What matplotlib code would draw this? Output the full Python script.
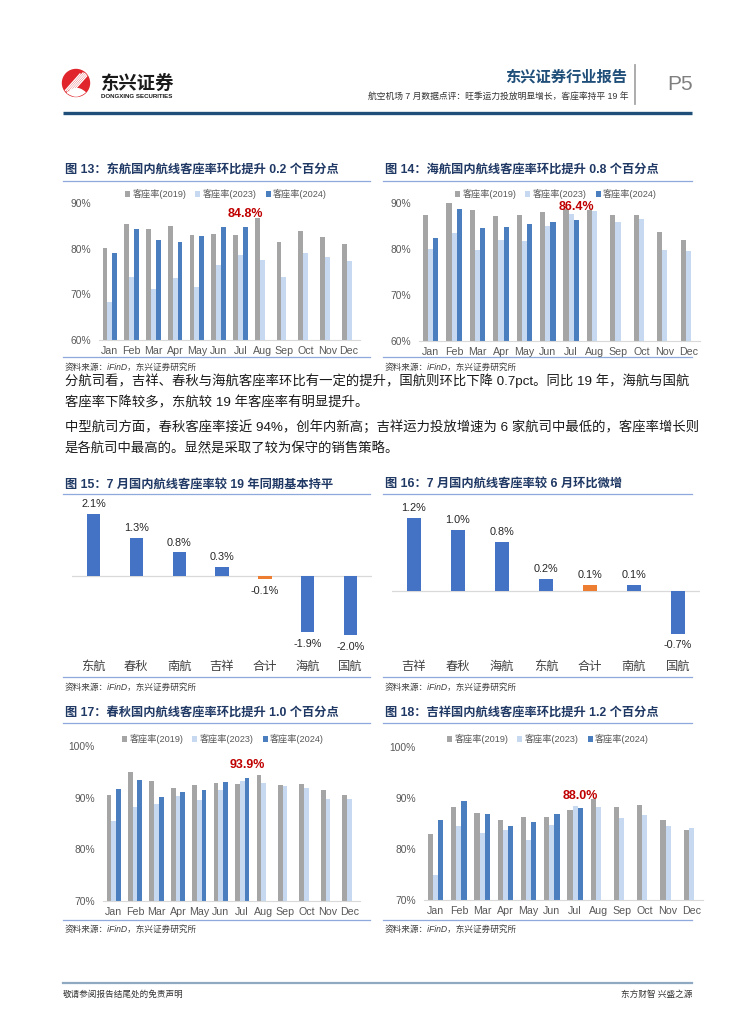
import matplotlib
matplotlib.use('Agg')
import matplotlib.pyplot as plt
import numpy as np
from matplotlib.patches import Circle

plt.rcParams['font.family'] = ['Liberation Sans', 'Noto Sans CJK SC', 'DejaVu Sans']

W, H = 755, 1024

# ---------------- data ----------------
months = ['Jan', 'Feb', 'Mar', 'Apr', 'May', 'Jun', 'Jul', 'Aug', 'Sep', 'Oct', 'Nov', 'Dec']
legend_labels = ['客座率(2019)', '客座率(2023)', '客座率(2024)']

ea_2019 = [80.1, 85.5, 84.2, 85.0, 83.1, 83.2, 82.9, 86.7, 81.5, 83.8, 82.6, 81.1]
ea_2023 = [68.4, 73.8, 71.2, 73.6, 71.5, 76.4, 78.7, 77.6, 73.8, 79.0, 78.2, 77.4]
ea_2024 = [79.0, 84.4, 81.8, 81.5, 82.8, 84.7, 84.8]

hn_2019 = [87.4, 90.0, 88.4, 87.2, 87.4, 88.0, 88.7, 88.5, 87.3, 87.4, 83.6, 82.0]
hn_2023 = [80.0, 83.4, 79.8, 81.9, 81.7, 85.0, 87.7, 88.2, 85.8, 86.6, 79.8, 79.6]
hn_2024 = [82.3, 88.7, 84.5, 84.8, 85.4, 85.8, 86.4]

cq_2019 = [90.5, 94.9, 93.2, 91.9, 92.5, 92.8, 92.7, 94.4, 92.4, 92.6, 91.5, 90.6]
cq_2023 = [85.5, 88.1, 88.8, 90.3, 89.6, 91.5, 93.2, 92.8, 92.2, 91.9, 89.7, 89.7]
cq_2024 = [91.6, 93.4, 90.1, 91.1, 91.4, 93.0, 93.9]

jx_2019 = [83.0, 88.2, 87.0, 85.6, 86.3, 86.3, 87.7, 89.9, 88.2, 88.6, 85.6, 83.8]
jx_2023 = [74.9, 84.6, 83.1, 83.7, 81.8, 84.7, 88.4, 88.2, 86.1, 86.7, 84.6, 84.2]
jx_2024 = [85.6, 89.4, 86.9, 84.5, 85.2, 86.9, 88.0]

yoy_airlines = ['东航', '春秋', '南航', '吉祥', '合计', '海航', '国航']
yoy_values = [2.1, 1.3, 0.8, 0.3, -0.1, -1.9, -2.0]

mom_airlines = ['吉祥', '春秋', '海航', '东航', '合计', '南航', '国航']
mom_values = [1.2, 1.0, 0.8, 0.2, 0.1, 0.1, -0.7]

# ---------------- styles ----------------
C19 = '#A5A5A5'
C23 = '#C6D9F1'
C24 = '#4A7EBF'
CBAR = '#4472C4'
CORANGE = '#ED7D31'
RED = '#C00000'
TITLE_C = '#1F3864'
LINE_C = '#8EA9DB'
TXT_C = '#595959'

fig = plt.figure(figsize=(W / 100, H / 100), dpi=100)
bg = fig.add_axes([0, 0, 1, 1])
bg.set_xlim(0, W)
bg.set_ylim(H, 0)
bg.axis('off')


def px_axes(x0, y0, x1, y1):
    ax = fig.add_axes([x0 / W, 1 - y1 / H, (x1 - x0) / W, (y1 - y0) / H])
    ax.set_facecolor('none')
    return ax


# ---------------- header ----------------
logo = Circle((76, 83), 13.5, color='#E0262C', zorder=2)
bg.add_patch(logo)
for k in range(5):
    ln, = bg.plot([64 + k * 3, 80 + k * 3], [92 - k * 1, 74 - k * 1], color='white', lw=1.0, zorder=3)
    ln.set_clip_path(logo)
arch = bg.fill_between(np.linspace(62, 90, 30), 97,
                       97 - 9 * np.sin(np.linspace(0, np.pi, 30)), color='white', zorder=3)
arch.set_clip_path(logo)
bg.text(101, 83, '东兴证券', fontsize=13.2, fontweight='bold', color='#1A1A1A',
        family=['Noto Sans CJK SC'], va='center', ha='left')
bg.text(101, 96.5, 'DONGXING SECURITIES', fontsize=4.4, fontweight='bold', color='#1A1A1A',
        va='center', ha='left')

bg.text(627, 77, '东兴证券行业报告', fontsize=11, fontweight='bold', color='#1F4E79',
        family=['Noto Sans CJK SC'], va='center', ha='right')
bg.text(628, 97.5, '航空机场 7 月数据点评：旺季运力投放明显增长，客座率持平 19 年', fontsize=6.3,
        color='#333333', va='center', ha='right')
bg.plot([635, 635], [65, 104], color='#A6A6A6', lw=1.3)
bg.text(680, 85, 'P5', fontsize=15, color='#7F7F7F', va='center', ha='center')
bg.plot([63, 692], [113, 113], color='#1F4E79', lw=2.4, solid_capstyle='butt')


# ---------------- helpers ----------------
def section_frame(x0, x1, title, ty, line_y, bottom_y, src_y):
    bg.text(x0 + 2, ty, title, fontsize=8.8, fontweight='bold', color=TITLE_C,
            va='center', ha='left')
    bg.plot([x0, x1], [line_y, line_y], color=LINE_C, lw=0.9)
    bg.plot([x0, x1], [bottom_y, bottom_y], color=LINE_C, lw=0.9)
    bg.text(x0 + 2, src_y, '资料来源：iFinD，东兴证券研究所', fontsize=6.2, style='italic',
            color='#404040', va='center', ha='left')


def month_chart(rect, s19, s23, s24, ylim, yticks, legend_xy):
    ax = px_axes(*rect)
    x = np.arange(len(months))
    w = 0.22
    b1 = ax.bar(x[:len(s19)] - w, s19, w, color=C19, label=legend_labels[0])
    b2 = ax.bar(x[:len(s23)], s23, w, color=C23, label=legend_labels[1])
    b3 = ax.bar(x[:len(s24)] + w, s24, w, color=C24, label=legend_labels[2])
    ax.set_xlim(-0.5, len(months) - 0.5)
    ax.set_ylim(*ylim)
    ax.set_yticks(yticks)
    ax.set_yticklabels([f'{t}%' for t in yticks], fontsize=7.4, color=TXT_C)
    ax.set_xticks(x)
    ax.set_xticklabels(months, fontsize=7.7, color=TXT_C)
    ax.tick_params(axis='both', length=0)
    ax.tick_params(axis='y', pad=6)
    ax.tick_params(axis='x', pad=4)
    for s in ['top', 'right', 'left']:
        ax.spines[s].set_visible(False)
    ax.spines['bottom'].set_color('#D9D9D9')
    last = len(s24) - 1
    ax.annotate(f'{s24[last]:.1f}%', (x[last] + w, s24[last]), xytext=(0, 4.5),
                textcoords='offset points', ha='center', va='bottom', fontsize=9,
                fontweight='bold', color=RED, zorder=5)
    ax.legend(handles=[b1, b2, b3], loc='center',
              bbox_to_anchor=(legend_xy[0] / W, 1 - legend_xy[1] / H),
              bbox_transform=fig.transFigure, ncol=3, frameon=False, fontsize=6.6,
              handlelength=0.55, handleheight=0.55, handletextpad=0.25, columnspacing=1.0,
              labelcolor=TXT_C, borderpad=0)
    return ax


def diff_chart(rect, cats, vals, ylim):
    ax = px_axes(*rect)
    x = np.arange(len(cats))
    colors = [CORANGE if c == '合计' else CBAR for c in cats]
    ax.bar(x, vals, 0.31, color=colors, zorder=2)
    ax.axhline(0, color='#D9D9D9', lw=0.9, zorder=1)
    ax.set_xlim(-0.5, len(cats) - 0.5)
    ax.set_ylim(*ylim)
    for xi, v in zip(x, vals):
        if v >= 0:
            ax.annotate(f'{v:.1f}%', (xi, v), xytext=(0, 3.5), textcoords='offset points',
                        ha='center', va='bottom', fontsize=7.8, color='#262626')
        else:
            ax.annotate(f'{v:.1f}%', (xi, v), xytext=(0, -5), textcoords='offset points',
                        ha='center', va='top', fontsize=7.8, color='#262626')
    ax.set_xticks(x)
    ax.set_xticklabels(cats, fontsize=8.8, color='#404040')
    ax.tick_params(axis='x', length=0, pad=8)
    ax.set_yticks([])
    for s in ax.spines.values():
        s.set_visible(False)
    return ax


# ---------------- charts 13 & 14 ----------------
section_frame(63, 370, '图 13：东航国内航线客座率环比提升 0.2 个百分点', 170, 181, 357, 367)
section_frame(383, 692, '图 14：海航国内航线客座率环比提升 0.8 个百分点', 170, 181, 357, 367)
month_chart((99, 203, 360, 340), ea_2019, ea_2023, ea_2024, (60, 90), [60, 70, 80, 90], (226, 194))
month_chart((419, 203, 700, 341), hn_2019, hn_2023, hn_2024, (60, 90), [60, 70, 80, 90], (556, 194))

# ---------------- text ----------------
para = [
    ('分航司看，吉祥、春秋与海航客座率环比有一定的提升，国航则环比下降 0.7pct。同比 19 年，海航与国航', 381),
    ('客座率下降较多，东航较 19 年客座率有明显提升。', 403),
    ('中型航司方面，春秋客座率接近 94%，创年内新高；吉祥运力投放增速为 6 家航司中最低的，客座率增长则', 427),
    ('是各航司中最高的。显然是采取了较为保守的销售策略。', 449),
]
for t, yy in para:
    bg.text(65, yy, t, fontsize=9.6, color='#1A1A1A', va='center', ha='left')

# ---------------- charts 15 & 16 ----------------
section_frame(63, 370, '图 15：7 月国内航线客座率较 19 年同期基本持平', 485, 494, 677, 687)
section_frame(383, 692, '图 16：7 月国内航线客座率较 6 月环比微增', 485, 494, 677, 687)
diff_chart((72, 505, 372, 650), yoy_airlines, yoy_values, (-2.51, 2.41))
diff_chart((392, 505, 700, 650), mom_airlines, mom_values, (-0.97, 1.41))

# ---------------- charts 17 & 18 ----------------
section_frame(63, 370, '图 17：春秋国内航线客座率环比提升 1.0 个百分点', 713, 723, 920, 929)
section_frame(383, 692, '图 18：吉祥国内航线客座率环比提升 1.2 个百分点', 713, 723, 920, 929)
month_chart((103, 746, 360, 901), cq_2019, cq_2023, cq_2024, (70, 100), [70, 80, 90, 100], (223, 739))
month_chart((424, 747, 703, 900), jx_2019, jx_2023, jx_2024, (70, 100), [70, 80, 90, 100], (548, 739))

# ---------------- footer ----------------
bg.plot([63, 692], [983, 983], color='#8EA9C1', lw=1.6)
bg.text(63, 994, '敬请参阅报告结尾处的免责声明', fontsize=6.2, color='#333333', va='center', ha='left')
bg.text(692, 994, '东方财智 兴盛之源', fontsize=6.2, color='#333333', va='center', ha='right')

fig.savefig('out.png', dpi=100)
